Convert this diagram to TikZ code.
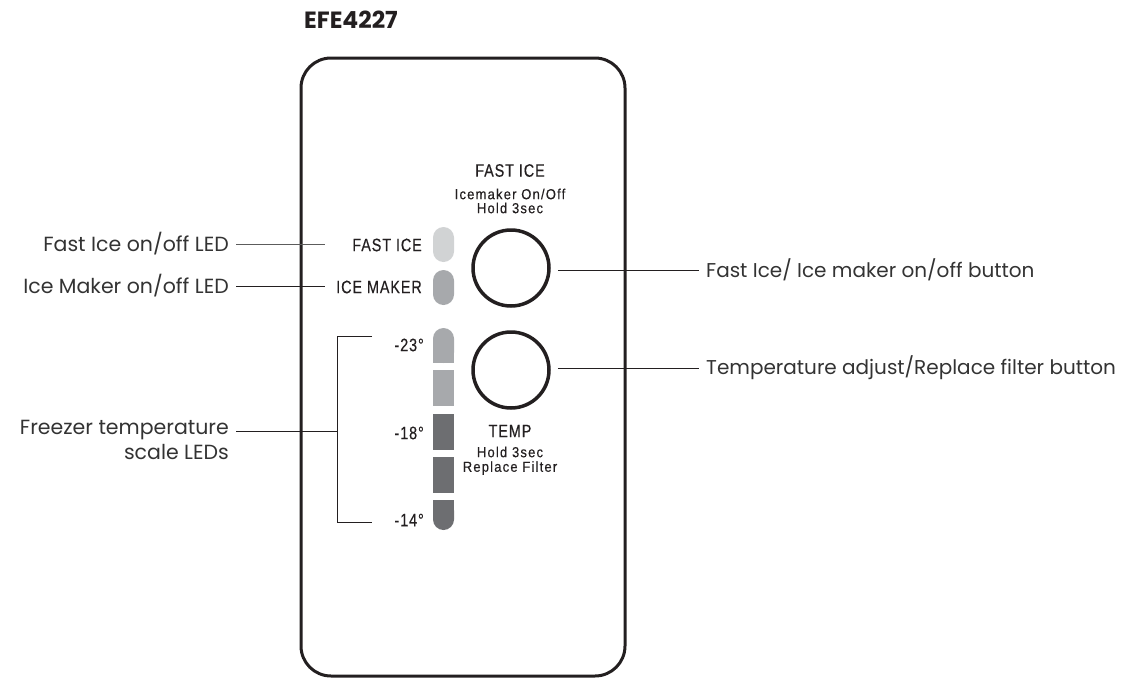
\documentclass[tikz,border=0pt]{standalone}
\usepackage{fontspec}
\newfontfamily\labelfont{Poppins}
\newfontfamily\panelfont[FakeStretch=0.8, LetterSpace=5, FakeBold=0.4]{Liberation Sans}
\newfontfamily\panelsmallfont[FakeStretch=0.9, LetterSpace=8, FakeBold=0.3]{Liberation Sans}
\definecolor{ledlight}{HTML}{D1D3D4}
\definecolor{ledmid}{HTML}{A7A9AC}
\definecolor{leddark}{HTML}{6D6E71}
\definecolor{ink}{HTML}{231F20}
\definecolor{lbltext}{HTML}{333333}
\begin{document}
\begin{tikzpicture}[x=1pt,y=-1pt,
  lbl/.style={font=\labelfont\fontsize{20.5}{24}\selectfont, text=lbltext, inner xsep=7pt, inner ysep=0pt},
  rlbl/.style={font=\labelfont\fontsize{20}{24}\selectfont, text=lbltext, inner xsep=7pt, inner ysep=0pt},
  ptxt/.style={font=\panelfont\fontsize{18}{20}\selectfont, text=ink, inner sep=0pt},
  psmall/.style={font=\panelsmallfont\fontsize{14.5}{14}\selectfont, text=ink, inner sep=0pt, align=center},
  btn/.style={circle, draw=ink, line width=3.5pt, minimum size=76pt, inner sep=0pt},
  leader/.style={draw=ink, line width=0.9pt},
  panel/.style={draw=ink, line width=3pt, rounded corners=30pt}]
\useasboundingbox (0,0) rectangle (1125,678);
% title
\node[font=\labelfont\bfseries\fontsize{23.5}{26}\selectfont, text=ink, anchor=west, inner sep=0pt] (title) at (304,20) {EFE4227};
% panel
\draw[panel] (301,58) rectangle (625,676);
% buttons
\node[btn] (bfast) at (511,268) {};
\node[btn] (btemp) at (511,370) {};
% panel texts
\node[ptxt] (hfast) at (510,170.5) {FAST ICE};
\node[psmall] (hfsub1) at (510,194) {Icemaker On/Off};
\node[psmall] (hfsub2) at (510,208) {Hold 3sec};
\node[ptxt] (htemp) at (510,431) {TEMP};
\node[psmall] (htsub1) at (510,452) {Hold 3sec};
\node[psmall] (htsub2) at (510,468) {Replace Filter};
\node[ptxt, anchor=east] (tfast) at (422,245) {FAST ICE};
\node[ptxt, anchor=east] (tice) at (422,287) {ICE MAKER};
\node[ptxt, anchor=east] (t23) at (424,345) {-23°};
\node[ptxt, anchor=east] (t18) at (424,433) {-18°};
\node[ptxt, anchor=east] (t14) at (424,520) {-14°};
% LEDs
\fill[ledlight, rounded corners=10.5pt] (433,227) rectangle (454,262);
\fill[ledmid, rounded corners=10.5pt] (433,270) rectangle (454,305);
\fill[ledmid, rounded corners=10.5pt] (433,328) rectangle (454,363);
\fill[ledmid] (433,345) rectangle (454,363);
\fill[ledmid] (433,370) rectangle (454,406);
\fill[leddark] (433,414) rectangle (454,450);
\fill[leddark] (433,457) rectangle (454,493);
\fill[leddark, rounded corners=10.5pt] (433,500) rectangle (454,530);
\fill[leddark] (433,500) rectangle (454,515);
% left labels
\node[lbl, anchor=east] (lfast) at (236,244) {Fast Ice on/off LED};
\node[lbl, anchor=east] (lice) at (236,286) {Ice Maker on/off LED};
\node[lbl, anchor=east, align=right, font=\labelfont\fontsize{20.5}{25}\selectfont] (lfrz) at (236,440) {Freezer temperature\\scale LEDs};
\coordinate (efast) at (325,244);
\coordinate (eice) at (325,286);
\coordinate (brktop) at (372,336);
\coordinate (brkbot) at (372,522);
\coordinate (brkmid) at (337,431);
\draw[leader, draw=lbltext!80] (lfast.east) -- (efast);
\draw[leader] (lice.east) -- (eice);
\draw[leader] (lfrz.east |- brkmid) -- (brkmid);
\draw[leader] (brktop) -- (brktop -| brkmid) -- (brkbot -| brkmid) -- (brkbot);
% right labels
\node[rlbl, anchor=west] (rfast) at (699,270) {Fast Ice/ Ice maker on/off button};
\node[rlbl, anchor=west] (rtemp) at (699,368) {Temperature adjust/Replace filter button};
\draw[leader] ([xshift=7pt]bfast.east |- rfast.west) -- (rfast.west);
\draw[leader] ([xshift=7pt]btemp.east |- rtemp.west) -- (rtemp.west);
\end{tikzpicture}
\end{document}
